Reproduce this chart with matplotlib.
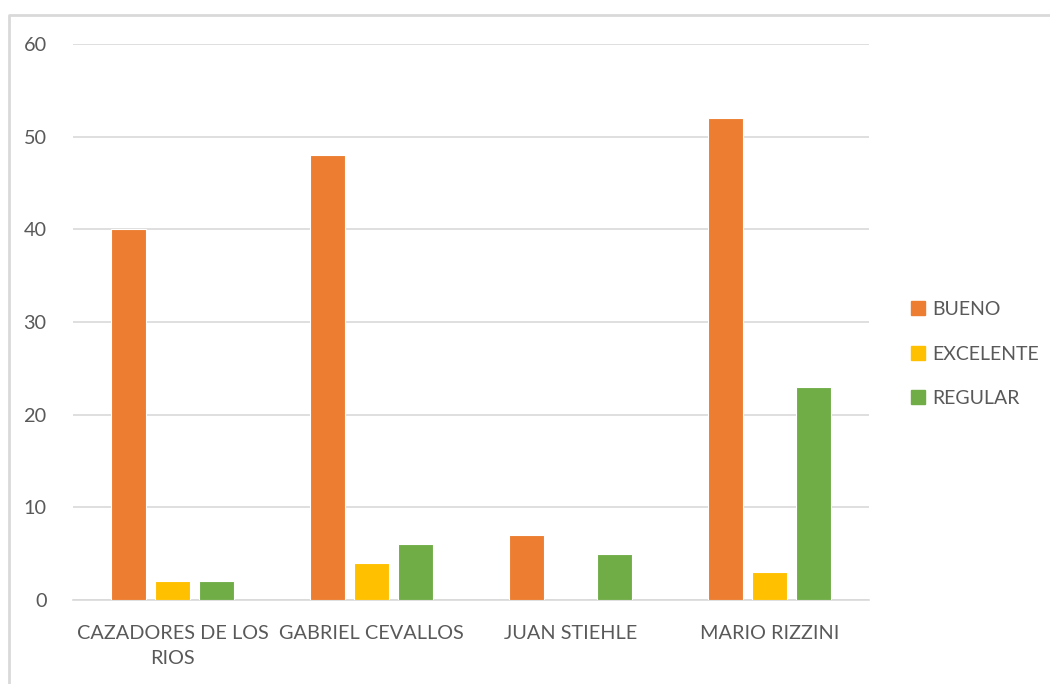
import matplotlib
matplotlib.use("Agg")
import matplotlib.pyplot as plt
from matplotlib.lines import Line2D
import numpy as np

categories = ["CAZADORES DE LOS\nRIOS", "GABRIEL CEVALLOS", "JUAN STIEHLE", "MARIO RIZZINI"]
series_names = ["BUENO", "EXCELENTE", "REGULAR"]
bueno = [40, 48, 7, 52]
excelente = [2, 4, 0, 3]
regular = [2, 6, 5, 23]
colors = ["#ED7D31", "#FFC000", "#70AD47"]

plt.rcParams["font.family"] = ["Lato", "DejaVu Sans"]
text_color = "#595959"
grid_color = "#D9D9D9"

fig = plt.figure(figsize=(10.5, 6.84), dpi=100)
ax = fig.add_axes([73 / 1050, 1 - 600 / 684, (869 - 73) / 1050, (600 - 44) / 684])

x = np.arange(len(categories))
step = 0.221
width = 0.18
for i, (vals, name) in enumerate(zip([bueno, excelente, regular], series_names)):
    ax.bar(x + (i - 1) * step, vals, width, color=colors[i], edgecolor="white",
           linewidth=0.8, label=name, zorder=3)

ax.set_xlim(-0.5, len(categories) - 0.5)
ax.set_ylim(0, 60)
ax.set_yticks(range(0, 61, 10))
ax.set_xticks(x)
ax.set_xticklabels(categories, linespacing=1.6)
ax.yaxis.grid(True, color=grid_color, linewidth=1.2, zorder=0)
for s in ["top", "right", "left"]:
    ax.spines[s].set_visible(False)
ax.spines["bottom"].set_color(grid_color)
ax.spines["bottom"].set_linewidth(1.2)
ax.tick_params(axis="both", length=0, colors=text_color, labelsize=14.3)
ax.tick_params(axis="y", pad=19)
ax.tick_params(axis="x", pad=18)

handles = [Line2D([0], [0], marker="s", linestyle="none", markersize=9.5,
                  markerfacecolor=c, markeredgecolor=c) for c in colors]
leg = fig.legend(handles, series_names, loc="center left",
                 bbox_to_anchor=(889 / 1050, 1 - 354 / 684), frameon=False,
                 fontsize=14, labelspacing=1.4, handletextpad=0.15,
                 handlelength=1.2)
for t in leg.get_texts():
    t.set_color(text_color)

# chart area border
fig.add_artist(Line2D([9 / 1050, 9 / 1050, 1.0], [0.0, 1 - 15 / 684, 1 - 15 / 684],
                      transform=fig.transFigure, color=grid_color, linewidth=2))

fig.savefig("out.png", dpi=100, facecolor="white")
